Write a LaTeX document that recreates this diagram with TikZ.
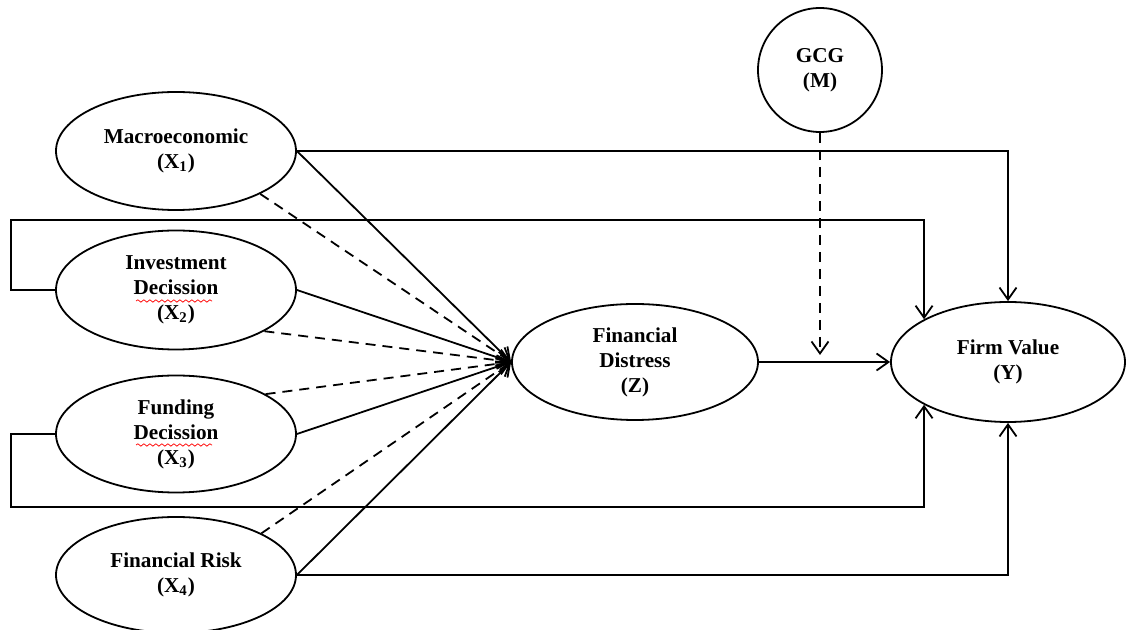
\documentclass[tikz,border=0pt]{standalone}
\usepackage{fontspec}
\setmainfont{Liberation Serif}
\usetikzlibrary{shapes.geometric,arrows.meta,decorations.pathmorphing}
\begin{document}
\begin{tikzpicture}[x=0.5pt,y=-0.5pt,
  lat/.style={draw,ellipse,line width=0.9pt,inner sep=0pt,minimum width=120pt,minimum height=59pt,
    align=center,font=\fontsize{10.6pt}{12.5pt}\selectfont\bfseries},
  mod/.style={draw,circle,line width=0.9pt,inner sep=0pt,minimum size=62pt,
    align=center,font=\fontsize{10.6pt}{12.5pt}\selectfont\bfseries},
  conn/.style={line width=0.9pt,-{Straight Barb[length=6pt,width=8.5pt,line width=0.9pt]}},
  dconn/.style={conn,dash pattern=on 5pt off 3.5pt},
  squig/.style={red,line width=0.35pt,decorate,decoration={snake,amplitude=0.6pt,segment length=3pt}}
]
\useasboundingbox (0,0) rectangle (1126,630);
\fill[white] (0,0) rectangle (1126,630);

\node[lat] (mac) at (176,151) {Macroeconomic\\(X\textsubscript{1})};
\node[lat,minimum height=59.5pt] (inv) at (176,290) {Investment\\Decission\\(X\textsubscript{2})};
\node[lat,minimum height=58.5pt] (fund) at (176,434) {Funding\\Decission\\(X\textsubscript{3})};
\node[lat,minimum height=58pt] (risk) at (176,575) {Financial Risk\\(X\textsubscript{4})};
\node[lat,minimum width=123pt,minimum height=58pt] (dist) at (635,362) {Financial\\Distress\\(Z)};
\node[lat,minimum width=117pt,minimum height=60pt] (fv) at (1008,362) {Firm Value\\(Y)};
\node[mod] (gcg) at (820,70) {GCG\\(M)};

\coordinate (tl) at (11,220);
\coordinate (bl) at (11,507);
\coordinate (gm) at (820,355);

% fan into Financial Distress
\draw[conn] (mac.east) -- (dist.west);
\draw[dconn] (mac.-27) -- (dist.west);
\draw[conn] (inv.east) -- (dist.west);
\draw[dconn] (inv.-25) -- (dist.west);
\draw[dconn] (fund.24) -- (dist.west);
\draw[conn] (fund.east) -- (dist.west);
\draw[dconn] (risk.26) -- (dist.west);
\draw[conn] (risk.east) -- (dist.west);

% direct paths to Firm Value
\draw[conn] (mac.east) -| (fv.north);
\draw[conn] (risk.east) -| (fv.south);
\draw[conn] (inv.west) -| (tl) -| (fv.153);
\draw[conn] (fund.west) -| (bl) -| (fv.-153);
\draw[conn] (dist.east) -- (fv.west);
\draw[dconn] (gcg.south) -- (gm);

% spell-check squiggles
\draw[squig] (136,301) -- (212,301);
\draw[squig] (136,445) -- (212,445);
\end{tikzpicture}
\end{document}
